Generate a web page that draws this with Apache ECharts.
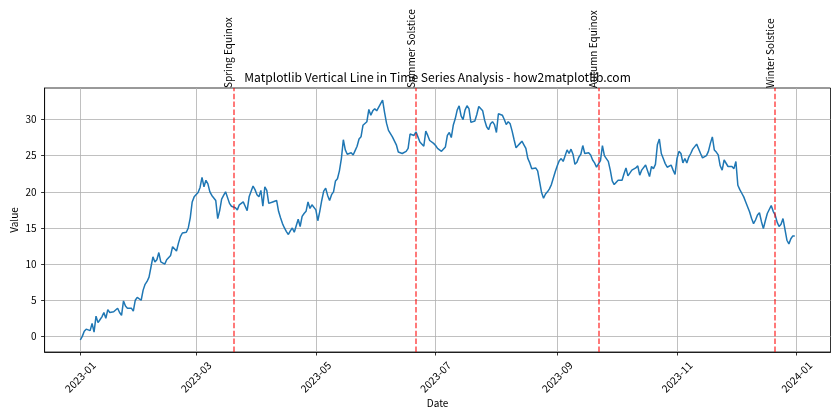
<!DOCTYPE html>
<html><head><meta charset="utf-8">
<script src="https://cdn.jsdelivr.net/npm/echarts@6/dist/echarts.min.js"></script>
<style>html,body{margin:0;padding:0;background:#fff}#c{width:840px;height:420px}</style>
</head><body><div id="c"></div>
<script>
const startDate = '2023-01-01';
const values = [
-0.5, 0.0, 0.7, 1.0, 1.1, 0.8, 1.8, 0.6, 2.8, 1.9,
2.3, 2.7, 3.3, 2.5, 3.7, 3.3, 3.5, 3.4, 3.5, 3.9,
3.3, 2.9, 4.9, 4.2, 3.9, 3.8, 3.9, 3.5, 5.0, 5.4,
5.2, 5.0, 6.4, 7.2, 7.6, 8.2, 9.6, 11.0, 10.3, 10.6,
11.6, 10.3, 10.4, 10.0, 10.6, 10.4, 11.2, 12.4, 12.5, 11.8,
12.9, 13.8, 14.3, 14.1, 14.4, 15.0, 16.4, 18.6, 19.3, 19.5,
19.9, 20.6, 22.0, 20.7, 21.6, 21.1, 20.0, 19.5, 19.4, 18.8,
16.3, 17.4, 19.0, 19.5, 20.0, 19.8, 18.4, 18.0, 18.1, 17.8,
17.5, 18.2, 18.0, 18.6, 18.0, 17.4, 19.3, 19.5, 20.8, 20.3,
19.6, 19.3, 20.2, 18.0, 20.7, 20.2, 18.4, 18.4, 18.6, 18.5,
18.8, 17.3, 16.4, 15.6, 15.0, 14.5, 14.1, 14.6, 15.0, 14.4,
14.2, 16.2, 15.2, 16.6, 17.0, 17.3, 18.6, 17.7, 18.2, 18.3,
17.5, 16.0, 17.3, 18.8, 20.1, 20.5, 19.5, 18.8, 19.6, 20.0,
21.5, 21.8, 22.9, 24.6, 27.2, 25.8, 25.2, 25.0, 25.4, 25.1,
25.7, 26.3, 27.3, 27.6, 29.2, 29.0, 29.7, 31.4, 30.6, 31.2,
31.5, 31.2, 31.0, 32.2, 32.7, 31.0, 29.5, 28.5, 28.4, 27.6,
27.8, 26.5, 25.5, 25.4, 25.3, 25.4, 25.6, 26.0, 28.0, 27.8,
27.8, 28.3, 27.6, 26.9, 26.7, 26.3, 28.4, 27.8, 27.1, 26.9,
26.7, 26.4, 26.0, 25.9, 25.6, 25.4, 26.2, 27.8, 28.2, 27.5,
29.2, 30.1, 31.3, 31.9, 30.5, 30.0, 31.3, 31.9, 31.5, 29.6,
29.5, 29.8, 30.7, 31.8, 31.8, 31.2, 29.9, 29.0, 28.6, 29.4,
29.7, 29.3, 28.2, 30.8, 30.7, 30.6, 30.0, 29.3, 29.7, 29.4,
28.4, 27.2, 26.1, 26.4, 26.7, 27.0, 26.5, 26.0, 24.6, 24.0,
23.2, 23.1, 23.3, 22.9, 21.4, 19.9, 19.1, 19.7, 20.0, 20.4,
21.0, 21.9, 22.8, 23.6, 24.3, 24.6, 24.2, 25.0, 25.8, 25.3,
25.9, 25.2, 23.8, 24.1, 24.8, 25.2, 26.4, 25.3, 25.1, 25.4,
25.1, 24.4, 24.0, 23.4, 23.3, 24.3, 26.4, 25.0, 24.6, 24.2,
23.0, 21.5, 21.0, 21.1, 21.6, 21.8, 21.6, 22.5, 23.3, 22.2,
22.4, 23.0, 23.1, 23.3, 23.6, 22.3, 23.0, 23.2, 23.7, 23.6,
22.1, 23.5, 23.2, 23.8, 26.5, 27.3, 25.3, 24.6, 23.9, 23.4,
23.4, 23.7, 23.0, 22.4, 24.6, 25.6, 25.3, 24.0, 24.6, 24.0,
24.8, 25.3, 25.9, 25.8, 26.6, 26.4, 25.3, 24.7, 24.5, 25.0,
25.6, 26.7, 27.6, 25.8, 25.5, 25.1, 23.6, 23.0, 24.4, 24.2,
23.5, 23.5, 23.5, 23.2, 24.2, 20.9, 20.3, 19.8, 19.3, 18.6,
18.4, 17.2, 16.3, 15.6, 16.1, 16.8, 17.1, 15.9, 14.9, 16.0,
17.0, 16.9, 18.1, 17.3, 16.8, 15.8, 15.2, 15.5, 16.3, 14.8,
13.3, 12.8, 13.5, 13.9, 13.9
];
const xTickLabels = ['2023-01','2023-03','2023-05','2023-07','2023-09','2023-11','2024-01'];
const yTickValues = [0, 5, 10, 15, 20, 25, 30];
const eventDates = ['2023-03-20','2023-06-21','2023-09-22','2023-12-21'];
const eventNames = ['Spring Equinox','Summer Solstice','Autumn Equinox','Winter Solstice'];
const titleText = 'Matplotlib Vertical Line in Time Series Analysis - how2matplotlib.com';

function parseDate(s) {
  const p = s.split('-').map(Number);
  return new Date(p[0], p[1] - 1, p[2] || 1).getTime();
}
const t0 = parseDate(startDate);
const sp = startDate.split('-').map(Number);
const seriesData = values.map((v, i) => [new Date(sp[0], sp[1] - 1, sp[2] + i).getTime(), v]);
const xTickValues = xTickLabels.map(parseDate);
const lastT = seriesData[seriesData.length - 1][0];
const xSpan = lastT - t0;
const xMin = t0 - 0.05 * xSpan, xMax = lastT + 0.05 * xSpan;
const vMin = Math.min(...values), vMax = Math.max(...values);
const ySpan = vMax - vMin;
const yMin = vMin - 0.05 * ySpan, yMax = vMax + 0.05 * ySpan;

const FONT = 'Noto Sans CJK SC';
const FS = 10;
const mctx = document.createElement('canvas').getContext('2d');
function fitSize(text, target) {
  mctx.font = '20px "' + FONT + '"';
  return 20 * target / mctx.measureText(text).width;
}
const titleFS = Math.min(13, fitSize(titleText, 387));
const eventFS = Math.min(11, fitSize(eventNames[0], 71));

const gridL = 44.6, gridR = 9.5, gridT = 88, gridB = 68;
const centerX = gridL + (840 - gridL - gridR) / 2;

const chart = echarts.init(document.getElementById('c'), null, {renderer: 'canvas'});
chart.setOption({
  animation: false,
  backgroundColor: '#fff',
  grid: {left: gridL, right: gridR, top: gridT, bottom: gridB, show: true,
    borderColor: '#000', borderWidth: 0.8, backgroundColor: 'transparent',
    containLabel: false, outerBoundsMode: 'none'},
  xAxis: {
    type: 'value', min: xMin, max: xMax, scale: true,
    name: 'Date', nameLocation: 'middle', nameGap: 46, nameMoveOverlap: false,
    nameTextStyle: {fontFamily: FONT, fontSize: FS, color: '#000'},
    axisLine: {show: true, onZero: false, lineStyle: {color: '#000', width: 0.8}},
    axisTick: {show: true, length: 3.5, lineStyle: {color: '#000', width: 0.8}, customValues: xTickValues},
    axisLabel: {show: true, rotate: 45, margin: 25, align: 'center', verticalAlign: 'middle',
      fontFamily: FONT, fontSize: 10.4, color: '#000',
      customValues: xTickValues,
      formatter: function (v) { const i = xTickValues.indexOf(v); return i >= 0 ? xTickLabels[i] : ''; }},
    splitLine: {show: true, lineStyle: {color: '#b0b0b0', width: 0.8}}
  },
  yAxis: {
    type: 'value', min: yMin, max: yMax,
    name: 'Value', nameLocation: 'middle', nameGap: 25, nameRotate: 90, nameMoveOverlap: false,
    nameTextStyle: {fontFamily: FONT, fontSize: FS, color: '#000'},
    axisLine: {show: true, onZero: false, lineStyle: {color: '#000', width: 0.8}},
    axisTick: {show: true, length: 3.5, lineStyle: {color: '#000', width: 0.8}, customValues: yTickValues},
    axisLabel: {show: true, margin: 8, fontFamily: FONT, fontSize: FS, color: '#000', customValues: yTickValues},
    splitLine: {show: true, lineStyle: {color: '#b0b0b0', width: 0.8}}
  },
  series: [{
    type: 'line', data: seriesData, showSymbol: false, symbol: 'none',
    lineStyle: {color: '#1f77b4', width: 1.5}, z: 3,
    markLine: {
      silent: true, symbol: ['none', 'none'], label: {show: false},
      lineStyle: {color: 'rgba(255,0,0,0.7)', width: 1.5, type: [5.5, 2.4]},
      data: eventDates.map(d => ({xAxis: parseDate(d)}))
    }
  }]
});
const graphics = eventDates.map((d, i) => {
  const x = chart.convertToPixel({xAxisIndex: 0}, parseDate(d));
  return {
    type: 'text', x: x, y: gridT, rotation: Math.PI / 2, z: 10,
    style: {text: eventNames[i], fontFamily: FONT, fontSize: eventFS, fill: '#000',
      align: 'left', verticalAlign: 'bottom'}
  };
});
graphics.push({
  type: 'text', x: centerX, y: 83.5, z: 5,
  style: {text: titleText, fontFamily: FONT, fontSize: titleFS, fill: '#000',
    align: 'center', verticalAlign: 'bottom'}
});
chart.setOption({graphic: graphics});
</script></body></html>
